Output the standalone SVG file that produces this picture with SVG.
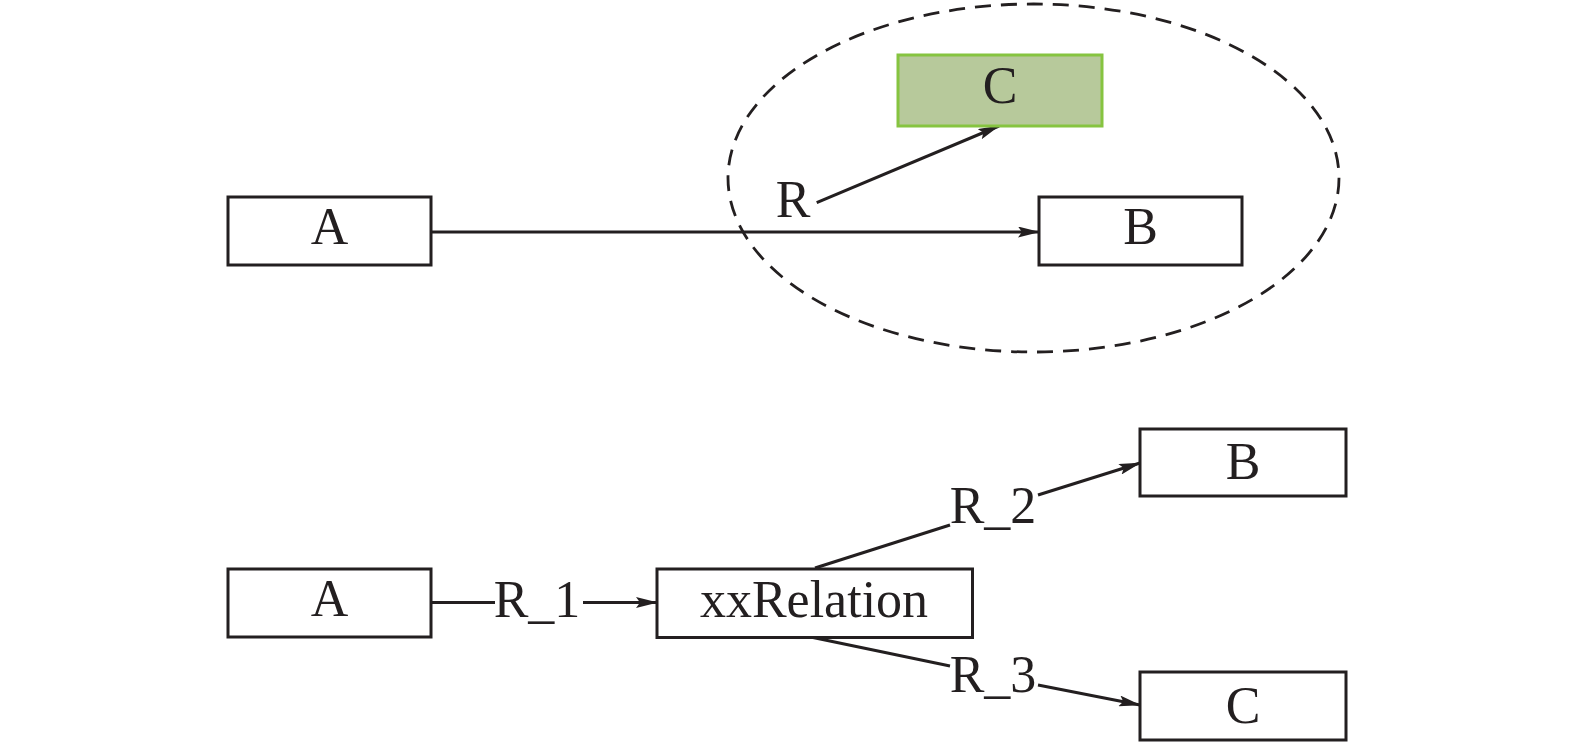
<svg xmlns="http://www.w3.org/2000/svg" width="1575" height="746" viewBox="0 0 1575 746">
<style>
.box{fill:#ffffff;stroke:#231f20;stroke-width:3}
.green{fill:#b7c99b;stroke:#86c440;stroke-width:3}
.t{font-family:"Liberation Serif","Times New Roman",serif;font-size:52px;fill:#231f20;text-anchor:middle}
.ln{fill:none;stroke:#231f20;stroke-width:3}
.dash{fill:none;stroke:#231f20;stroke-width:2.8;stroke-dasharray:16 10}
</style>
<defs>
<marker id="arr" viewBox="0 0 22 11" refX="21" refY="5.5" markerWidth="22" markerHeight="11" markerUnits="userSpaceOnUse" orient="auto">
<path d="M0,0 L22,5.5 L0,11 L4,5.5 Z" fill="#231f20"/>
</marker>
</defs>
<rect width="1575" height="746" fill="#ffffff"/>
<ellipse class="dash" cx="1033.5" cy="178" rx="305.5" ry="174"/>
<g id="connectors">
<line class="ln" x1="431" y1="232" x2="1039" y2="232" marker-end="url(#arr)"/>
<line class="ln" x1="816.7" y1="202.7" x2="999" y2="126" marker-end="url(#arr)"/>
<line class="ln" x1="431" y1="602.5" x2="495" y2="602.5"/>
<line class="ln" x1="583" y1="602.5" x2="657" y2="602.5" marker-end="url(#arr)"/>
<line class="ln" x1="815" y1="568" x2="950" y2="525"/>
<line class="ln" x1="1038" y1="495" x2="1140" y2="463" marker-end="url(#arr)"/>
<line class="ln" x1="813" y1="637.5" x2="950" y2="666"/>
<line class="ln" x1="1038" y1="685" x2="1140" y2="705" marker-end="url(#arr)"/>
<text class="t" x="793" y="217">R</text>
<text class="t" x="537" y="616.5">R_1</text>
<text class="t" x="993" y="523">R_2</text>
<text class="t" x="993" y="691.5">R_3</text>
</g>
<g id="topA"><rect class="box" x="228" y="197" width="203" height="68"/><text class="t" x="329.5" y="243.5">A</text></g>
<g id="topB"><rect class="box" x="1039" y="197" width="203" height="68"/><text class="t" x="1140.5" y="243.5">B</text></g>
<g id="topC"><rect class="green" x="898" y="55" width="204" height="71"/><text class="t" x="1000" y="103">C</text></g>
<g id="botA"><rect class="box" x="228" y="569" width="203" height="68"/><text class="t" x="329.5" y="615.5">A</text></g>
<g id="xxRelation"><rect class="box" x="657" y="569" width="315.5" height="68.5"/><text class="t" x="814" y="616.5">xxRelation</text></g>
<g id="botB"><rect class="box" x="1140" y="429" width="206" height="67"/><text class="t" x="1243" y="478.5">B</text></g>
<g id="botC"><rect class="box" x="1140" y="672" width="206" height="68"/><text class="t" x="1243" y="723">C</text></g>
</svg>
